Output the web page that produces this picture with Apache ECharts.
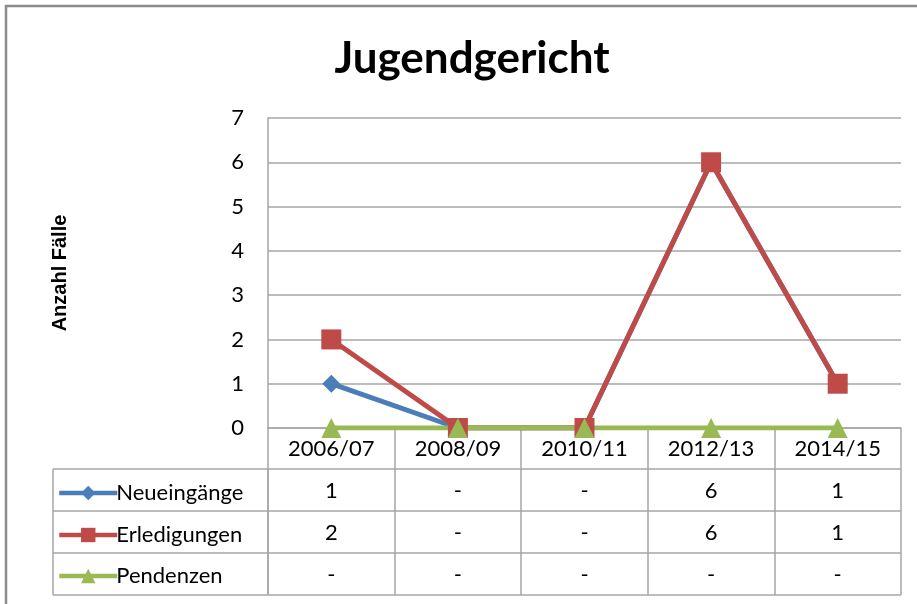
<!DOCTYPE html>
<html>
<head>
<meta charset="utf-8">
<script src="https://cdn.jsdelivr.net/npm/echarts@6/dist/echarts.min.js"></script>
<style>
  html, body { margin: 0; padding: 0; background: #fff; }
  #chart { width: 917px; height: 604px; }
</style>
</head>
<body>
<div id="chart"></div>
<script>
const categories = ['2006/07', '2008/09', '2010/11', '2012/13', '2014/15'];
const neueingaenge = [1, 0, 0, 6, 1];
const erledigungen = [2, 0, 0, 6, 1];
const pendenzen = [0, 0, 0, 0, 0];
const seriesNames = ['Neueingänge', 'Erledigungen', 'Pendenzen'];
const colors = ['#4a7ebb', '#be4b48', '#98b954'];

const font = 'Lato, "Open Sans", sans-serif';
const gridColor = '#a6a6a6';
const rowH = 42;

const chart = echarts.init(document.getElementById('chart'));

// table cell text: 0 is shown as "-"
const cell = v => (v === 0 ? '-' : String(v));

const legendTops = [477, 519, 560];

const option = {
  backgroundColor: '#fff',
  animation: false,
  color: colors,
  title: {
    text: 'Jugendgericht',
    left: 467,
    top: 32,
    textAlign: 'center',
    textStyle: { fontFamily: font, fontWeight: 'bold', fontSize: 44, color: '#000' }
  },
  legend: seriesNames.map((name, i) => ({
    data: [name],
    left: 52,
    top: legendTops[i],
    itemWidth: 58,
    itemHeight: 18,
    itemGap: 2,
    lineStyle: { width: 4.5 },
    textStyle: { fontFamily: font, fontSize: 22, color: '#000', padding: [0, 0, 0, -6] }
  })),
  grid: { left: 268, right: 16, top: 118, bottom: 176 },
  xAxis: {
    type: 'category',
    data: categories,
    boundaryGap: true,
    axisLine: { show: true, lineStyle: { color: gridColor, width: 1.5 } },
    axisTick: { show: true, length: 167, inside: false, lineStyle: { color: gridColor, width: 1.5 } },
    axisLabel: {
      margin: 0,
      fontFamily: font,
      fontSize: 22,
      color: '#000',
      lineHeight: rowH,
      formatter: (v, idx) => [v, cell(neueingaenge[idx]), cell(erledigungen[idx]), cell(pendenzen[idx])].join('\n')
    },
    splitLine: { show: false }
  },
  yAxis: {
    type: 'value',
    min: 0,
    max: 7,
    interval: 1,
    name: 'Anzahl Fälle',
    nameLocation: 'middle',
    nameGap: 198,
    nameTextStyle: { fontFamily: '"Liberation Sans", Arial, sans-serif', fontWeight: 'bold', fontSize: 20, color: '#000' },
    axisLine: { show: true, lineStyle: { color: gridColor, width: 1.5 } },
    axisTick: { show: false },
    axisLabel: { margin: 24, fontFamily: font, fontSize: 22, color: '#000' },
    splitLine: { lineStyle: { color: gridColor, width: 1.5 } }
  },
  series: [
    {
      name: seriesNames[0], type: 'line', data: neueingaenge,
      symbol: 'diamond', symbolSize: 18,
      lineStyle: { width: 5 }, itemStyle: { color: colors[0] }
    },
    {
      name: seriesNames[1], type: 'line', data: erledigungen,
      symbol: 'rect', symbolSize: 20,
      lineStyle: { width: 5 }, itemStyle: { color: colors[1] }
    },
    {
      name: seriesNames[2], type: 'line', data: pendenzen,
      symbol: 'triangle', symbolSize: 20,
      lineStyle: { width: 5 }, itemStyle: { color: colors[2] }
    }
  ],
  graphic: []
};

chart.setOption(option);

// table rules: horizontal lines and the legend column, placed from the axis geometry
const x0 = chart.convertToPixel({ xAxisIndex: 0 }, 0) - (chart.convertToPixel({ xAxisIndex: 0 }, 1) - chart.convertToPixel({ xAxisIndex: 0 }, 0)) / 2;
const y0 = chart.convertToPixel({ yAxisIndex: 0 }, 0);
const xRight = 901;
const tableLeft = 53;
const lines = [];
for (let r = 1; r <= 4; r++) {
  lines.push({
    type: 'line',
    shape: { x1: tableLeft, y1: y0 + r * rowH - 1, x2: xRight, y2: y0 + r * rowH - 1 },
    style: { stroke: gridColor, lineWidth: 1.5 }
  });
}
lines.push({
  type: 'line',
  shape: { x1: tableLeft, y1: y0 + rowH - 1, x2: tableLeft, y2: y0 + 4 * rowH - 1 },
  style: { stroke: gridColor, lineWidth: 1.5 }
});
lines.push({
  type: 'line',
  shape: { x1: x0, y1: y0 + rowH - 1, x2: x0, y2: y0 + 4 * rowH - 1 },
  style: { stroke: gridColor, lineWidth: 1.5 }
});
// outer chart frame
lines.push({
  type: 'rect',
  shape: { x: 6, y: 6, width: 1000, height: 1000 },
  style: { fill: null, stroke: '#8c8c8c', lineWidth: 2.5 },
  z: 100
});
chart.setOption({ graphic: lines });
</script>
</body>
</html>
